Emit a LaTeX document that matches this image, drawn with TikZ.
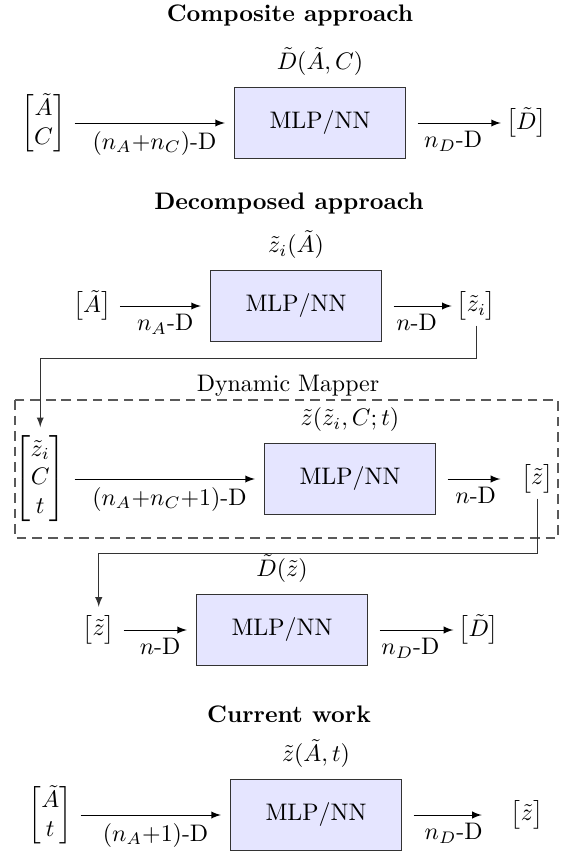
\documentclass[tikz,border=0pt]{standalone}
\usepackage{amsmath}
\usetikzlibrary{positioning}

\begin{document}
\begin{tikzpicture}[x=0.0147cm,y=-0.0147cm,
    mlp/.style={
    % The shape:
    rectangle,minimum width=2.5cm,minimum height=1.05cm,
    % The rest
    draw=black!80,fill=blue!10},
    vec/.style={inner sep=3.5pt},
    res/.style={inner sep=2pt},
    head/.style={font=\bfseries},
    into/.style={-latex,shorten >=4pt},
    outof/.style={-latex,shorten <=5pt},
    link/.style={-latex,draw=black!80},
    mapper/.style={draw=black!65,dash pattern=on 4pt off 2.5pt,line width=0.6pt}]
  \useasboundingbox (0,0) rectangle (572,852);
  % Composite approach
  \node[head] (t1) at (290,15) {Composite approach};
  \node[mlp] (mlp1) at (320,123) {MLP/NN};
  \node[above=1pt of mlp1] (f1) {$\tilde{D}(\tilde{A},C)$};
  \node[vec,left=2.35cm of mlp1] (in1) {$\begin{bmatrix}\tilde{A}\\ C\end{bmatrix}$};
  \node[res,right=1.4cm of mlp1] (out1) {$\begin{bmatrix}\tilde{D}\end{bmatrix}$};
  \draw[into] (in1) -- node[below] {$(n_A{+}n_C)$-D} (mlp1);
  \draw[outof] (mlp1) -- node[below] {$n_D$-D} (out1);
  % Decomposed approach
  \node[head] (t2) at (289,204) {Decomposed approach};
  \node[mlp] (mlp2) at (296,306) {MLP/NN};
  \node[above=1pt of mlp2] (f2) {$\tilde{z}_i(\tilde{A})$};
  \node[vec,left=1.33cm of mlp2] (in2) {$\begin{bmatrix}\tilde{A}\end{bmatrix}$};
  \node[res,right=1.03cm of mlp2] (out2) {$\begin{bmatrix}\tilde{z}_i\end{bmatrix}$};
  \draw[into] (in2) -- node[below] {$n_A$-D} (mlp2);
  \draw[outof] (mlp2) -- node[below] {$n$-D} (out2);
  % Dynamic mapper
  \node (t3) at (288,386) {Dynamic Mapper};
  \draw[mapper] (15,400) rectangle (558,538);
  \node[mlp] (mlp3) at (350,479) {MLP/NN};
  \node[above=1pt of mlp3] (f3) {$\tilde{z}(\tilde{z}_i,C;t)$};
  \node[vec,left=2.79cm of mlp3] (in3) {$\begin{bmatrix}\tilde{z}_i\\ C\\ t\end{bmatrix}$};
  \node[res,right=1.18cm of mlp3] (out3) {$\begin{bmatrix}\tilde{z}\end{bmatrix}$};
  \draw[into] (in3) -- node[below] {$(n_A{+}n_C{+}1)$-D} (mlp3);
  \draw[outof,shorten >=6.5pt] (mlp3) -- node[below] {$n$-D} (out3);
  \draw[link] (out2.south) |- (in3.north |- 0,358) -- (in3.north);
  % decoder
  \node[mlp] (mlp4) at (282,630) {MLP/NN};
  \node[above=1pt of mlp4] (f4) {$\tilde{D}(\tilde{z})$};
  \node[vec,left=1.07cm of mlp4] (in4) {$\begin{bmatrix}\tilde{z}\end{bmatrix}$};
  \node[res,right=1.26cm of mlp4] (out4) {$\begin{bmatrix}\tilde{D}\end{bmatrix}$};
  \draw[into] (in4) -- node[below] {$n$-D} (mlp4);
  \draw[outof] (mlp4) -- node[below] {$n_D$-D} (out4);
  \draw[link] (out3.south) |- (in4.north |- 0,553) -- (in4.north);
  % Current work
  \node[head] (t5) at (289,714) {Current work};
  \node[mlp] (mlp5) at (316,815) {MLP/NN};
  \node[above=1pt of mlp5] (f5) {$\tilde{z}(\tilde{A},t)$};
  \node[vec,left=2.2cm of mlp5] (in5) {$\begin{bmatrix}\tilde{A}\\ t\end{bmatrix}$};
  \node[res,right=1.53cm of mlp5] (out5) {$\begin{bmatrix}\tilde{z}\end{bmatrix}$};
  \draw[into] (in5) -- node[below] {$(n_A{+}1)$-D} (mlp5);
  \draw[outof,shorten >=10pt] (mlp5) -- node[below] {$n_D$-D} (out5);
\end{tikzpicture}
\end{document}
